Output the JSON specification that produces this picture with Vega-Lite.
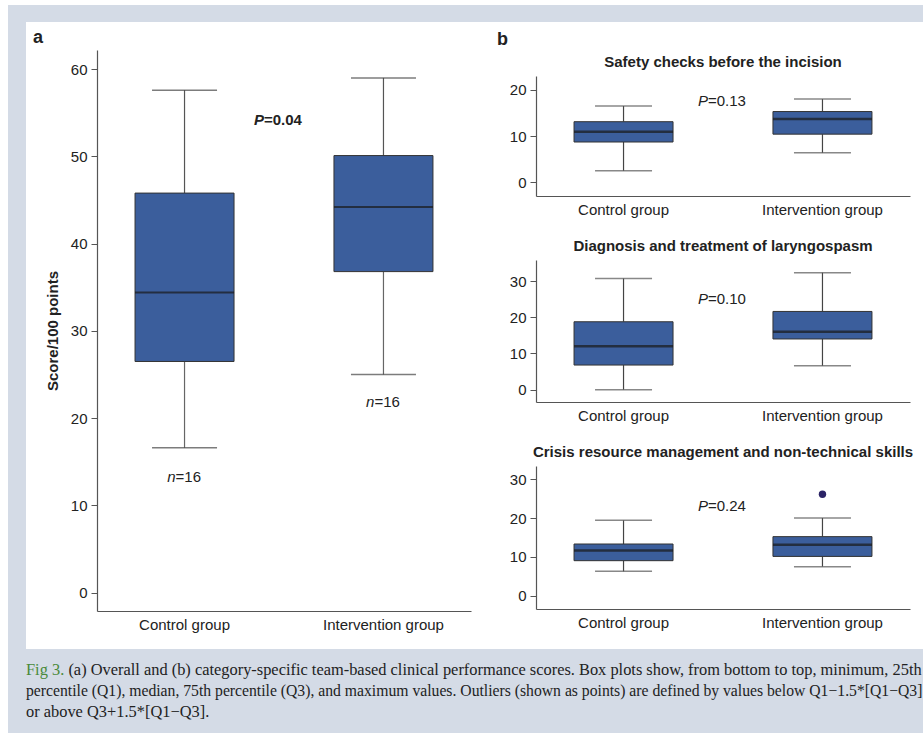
{
  "$schema": "https://vega.github.io/schema/vega-lite/v6.json",
  "background": "white",
  "padding": {"left": 8, "top": 5, "right": 0, "bottom": 0},
  "spacing": 0,
  "config": {
    "view": {"stroke": null},
    "font": "Liberation Sans",
    "axis": {"labelFont": "Liberation Sans", "labelFontSize": 15, "labelColor": "#222", "domainColor": "#555", "tickColor": "#555", "titleFont": "Liberation Sans", "titleFontSize": 15, "titleColor": "#222", "titleFontWeight": "bold", "grid": false, "domainWidth": 1.2},
    "axisY": {"tickSize": 6, "labelPadding": 4, "titlePadding": 10},
    "axisX": {"ticks": false, "labelAngle": 0, "labelPadding": 6},
    "title": {"font": "Liberation Sans", "color": "#222"}
  },
  "datasets": {
    "blank": [{}],
    "boxA": [
      {"group": "Control group", "min": 16.6, "q1": 26.5, "median": 34.4, "q3": 45.8, "max": 57.6},
      {"group": "Intervention group", "min": 25.0, "q1": 36.8, "median": 44.2, "q3": 50.1, "max": 59.0}
    ],
    "boxB1": [
      {"group": "Control group", "min": 2.45, "q1": 8.7, "median": 10.9, "q3": 13.1, "max": 16.5},
      {"group": "Intervention group", "min": 6.35, "q1": 10.4, "median": 13.7, "q3": 15.3, "max": 18.0}
    ],
    "boxB2": [
      {"group": "Control group", "min": 0, "q1": 6.8, "median": 12.0, "q3": 18.75, "max": 30.7},
      {"group": "Intervention group", "min": 6.6, "q1": 14.0, "median": 16.0, "q3": 21.6, "max": 32.3}
    ],
    "boxB3": [
      {"group": "Control group", "min": 6.25, "q1": 9.0, "median": 11.65, "q3": 13.3, "max": 19.4},
      {"group": "Intervention group", "min": 7.46, "q1": 10.1, "median": 13.1, "q3": 15.2, "max": 20.0}
    ],
    "outB3": [{"group": "Intervention group", "score": 26.1}],
    "pA": [{"italic": "P", "rest": "=0.04", "y": 54.2}],
    "nA": [
      {"group": "Control group", "italic": "n", "rest": "=16", "y": 13.3},
      {"group": "Intervention group", "italic": "n", "rest": "=16", "y": 21.9}
    ],
    "pB1": [{"italic": "P", "rest": "=0.13", "y": 17.6}],
    "pB2": [{"italic": "P", "rest": "=0.10", "y": 24.9}],
    "pB3": [{"italic": "P", "rest": "=0.24", "y": 23.0}],
    "caption": [
      {"line": 1, "part": "fig", "text": "Fig 3."},
      {"line": 1, "part": "first", "text": "(a) Overall and (b) category-specific team-based clinical performance scores. Box plots show, from bottom to top, minimum, 25th"},
      {"line": 2, "part": "second", "text": "percentile (Q1), median, 75th percentile (Q3), and maximum values. Outliers (shown as points) are defined by values below Q1−1.5*[Q1−Q3]"},
      {"line": 3, "part": "body", "text": "or above Q3+1.5*[Q1−Q3]."}
    ]
  },
  "vconcat": [
    {
      "data": {"name": "blank"},
      "width": 915, "height": 17,
      "view": {"fill": "#d4dbe6", "stroke": null},
      "mark": {"type": "rect", "color": "#d4dbe6"},
      "encoding": {}
    },
    {
      "spacing": 7,
      "align": "none",
      "hconcat": [
        {
          "data": {"name": "blank"},
          "width": 18, "height": 627,
          "view": {"fill": "#d4dbe6", "stroke": null},
          "mark": {"type": "rect", "color": "#d4dbe6"},
          "encoding": {}
        },
        {
          "spacing": 26,
          "align": "none",
          "hconcat": [
            {
              "spacing": 3,
              "vconcat": [
                {
                  "data": {"name": "blank"},
                  "width": 1, "height": 1,
                  "mark": {"type": "rect", "opacity": 0},
                  "encoding": {},
                  "title": {"text": "a", "orient": "bottom", "anchor": "start", "baseline": "top", "fontSize": 18, "fontWeight": "bold", "dx": -64, "offset": 6}
                },
                {
                  "width": 374, "height": 561,
                  "layer": [
                    {
                      "data": {"name": "boxA"},
                      "encoding": {"x": {"field": "group", "type": "nominal", "sort": null, "scale": {"paddingInner": 0.5, "paddingOuter": 0.19}, "title": null}},
                      "layer": [
                        {"mark": {"type": "rule", "color": "#666", "strokeWidth": 1.2},
                         "encoding": {"y": {"field": "min", "type": "quantitative", "scale": {"domain": [-2.1, 62.2], "nice": false, "zero": false}, "axis": {"values": [0, 10, 20, 30, 40, 50, 60]}, "title": "Score/100 points"}, "y2": {"field": "q1"}}},
                        {"mark": {"type": "rule", "color": "#555", "strokeWidth": 1.2},
                         "encoding": {"y": {"field": "q3", "type": "quantitative", "scale": {"domain": [-2.1, 62.2], "nice": false, "zero": false}, "axis": {"values": [0, 10, 20, 30, 40, 50, 60]}, "title": "Score/100 points"}, "y2": {"field": "max"}}},
                        {"mark": {"type": "tick", "color": "#444", "size": 65, "thickness": 1.5},
                         "encoding": {"y": {"field": "min", "type": "quantitative", "scale": {"domain": [-2.1, 62.2], "nice": false, "zero": false}, "axis": {"values": [0, 10, 20, 30, 40, 50, 60]}, "title": "Score/100 points"}}},
                        {"mark": {"type": "tick", "color": "#444", "size": 65, "thickness": 1.5},
                         "encoding": {"y": {"field": "max", "type": "quantitative", "scale": {"domain": [-2.1, 62.2], "nice": false, "zero": false}, "axis": {"values": [0, 10, 20, 30, 40, 50, 60]}, "title": "Score/100 points"}}},
                        {"mark": {"type": "bar", "size": 99, "fill": "#3b5e9c", "stroke": "#333", "strokeWidth": 1},
                         "encoding": {"y": {"field": "q1", "type": "quantitative", "scale": {"domain": [-2.1, 62.2], "nice": false, "zero": false}, "axis": {"values": [0, 10, 20, 30, 40, 50, 60]}, "title": "Score/100 points"}, "y2": {"field": "q3"}}},
                        {"mark": {"type": "tick", "color": "#1a1a1a", "size": 99, "thickness": 2},
                         "encoding": {"y": {"field": "median", "type": "quantitative", "scale": {"domain": [-2.1, 62.2], "nice": false, "zero": false}, "axis": {"values": [0, 10, 20, 30, 40, 50, 60]}, "title": "Score/100 points"}}}
                      ]
                    },
                    {
                      "data": {"name": "pA"},
                      "layer": [
                        {"mark": {"type": "text", "font": "Liberation Sans", "fontSize": 15, "fontWeight": "bold", "fontStyle": "italic", "align": "right", "baseline": "middle", "dx": -20, "color": "#222"},
                         "encoding": {"y": {"field": "y", "type": "quantitative", "scale": {"domain": [-2.1, 62.2], "nice": false, "zero": false}, "axis": {"values": [0, 10, 20, 30, 40, 50, 60]}, "title": "Score/100 points"}, "text": {"field": "italic"}}},
                        {"mark": {"type": "text", "font": "Liberation Sans", "fontSize": 15, "fontWeight": "bold", "align": "left", "baseline": "middle", "dx": -20, "color": "#222"},
                         "encoding": {"y": {"field": "y", "type": "quantitative", "scale": {"domain": [-2.1, 62.2], "nice": false, "zero": false}, "axis": {"values": [0, 10, 20, 30, 40, 50, 60]}, "title": "Score/100 points"}, "text": {"field": "rest"}}}
                      ]
                    },
                    {
                      "data": {"name": "nA"},
                      "encoding": {"x": {"field": "group", "type": "nominal", "sort": null, "scale": {"paddingInner": 0.5, "paddingOuter": 0.19}, "title": null}},
                      "layer": [
                        {"mark": {"type": "text", "font": "Liberation Sans", "fontSize": 15, "fontStyle": "italic", "align": "right", "baseline": "middle", "dx": -9, "color": "#222"},
                         "encoding": {"y": {"field": "y", "type": "quantitative", "scale": {"domain": [-2.1, 62.2], "nice": false, "zero": false}, "axis": {"values": [0, 10, 20, 30, 40, 50, 60]}, "title": "Score/100 points"}, "text": {"field": "italic"}}},
                        {"mark": {"type": "text", "font": "Liberation Sans", "fontSize": 15, "align": "left", "baseline": "middle", "dx": -9, "color": "#222"},
                         "encoding": {"y": {"field": "y", "type": "quantitative", "scale": {"domain": [-2.1, 62.2], "nice": false, "zero": false}, "axis": {"values": [0, 10, 20, 30, 40, 50, 60]}, "title": "Score/100 points"}, "text": {"field": "rest"}}}
                      ]
                    }
                  ]
                }
              ]
            },
            {
              "spacing": 6,
              "vconcat": [
                {
                  "data": {"name": "blank"},
                  "width": 1, "height": 1,
                  "mark": {"type": "rect", "opacity": 0},
                  "encoding": {},
                  "title": {"text": "b", "orient": "bottom", "anchor": "start", "baseline": "top", "fontSize": 18, "fontWeight": "bold", "dx": -39, "offset": 8}
                },
                {
                  "spacing": 22,
                  "vconcat": [
                    {
                      "width": 374, "height": 120,
                      "title": {"text": "Safety checks before the incision", "fontSize": 15, "fontWeight": "bold", "offset": 6},
                      "layer": [
                        {
                          "data": {"name": "boxB1"},
                          "encoding": {"x": {"field": "group", "type": "nominal", "sort": null, "scale": {"paddingInner": 0.5, "paddingOuter": 0.19}, "title": null}},
                          "layer": [
                            {"mark": {"type": "rule", "color": "#444", "strokeWidth": 1.2},
                             "encoding": {"y": {"field": "min", "type": "quantitative", "scale": {"domain": [-3, 23], "nice": false, "zero": false}, "axis": {"values": [0, 10, 20]}, "title": null}, "y2": {"field": "q1"}}},
                            {"mark": {"type": "rule", "color": "#444", "strokeWidth": 1.2},
                             "encoding": {"y": {"field": "q3", "type": "quantitative", "scale": {"domain": [-3, 23], "nice": false, "zero": false}, "axis": {"values": [0, 10, 20]}, "title": null}, "y2": {"field": "max"}}},
                            {"mark": {"type": "tick", "color": "#555", "size": 57, "thickness": 1.5},
                             "encoding": {"y": {"field": "min", "type": "quantitative", "scale": {"domain": [-3, 23], "nice": false, "zero": false}, "axis": {"values": [0, 10, 20]}, "title": null}}},
                            {"mark": {"type": "tick", "color": "#555", "size": 57, "thickness": 1.5},
                             "encoding": {"y": {"field": "max", "type": "quantitative", "scale": {"domain": [-3, 23], "nice": false, "zero": false}, "axis": {"values": [0, 10, 20]}, "title": null}}},
                            {"mark": {"type": "bar", "size": 99, "fill": "#3b5e9c", "stroke": "#333", "strokeWidth": 1},
                             "encoding": {"y": {"field": "q1", "type": "quantitative", "scale": {"domain": [-3, 23], "nice": false, "zero": false}, "axis": {"values": [0, 10, 20]}, "title": null}, "y2": {"field": "q3"}}},
                            {"mark": {"type": "tick", "color": "#1a1a1a", "size": 99, "thickness": 2.5},
                             "encoding": {"y": {"field": "median", "type": "quantitative", "scale": {"domain": [-3, 23], "nice": false, "zero": false}, "axis": {"values": [0, 10, 20]}, "title": null}}}
                          ]
                        },
                        {
                          "data": {"name": "pB1"},
                          "layer": [
                            {"mark": {"type": "text", "font": "Liberation Sans", "fontSize": 15, "fontStyle": "italic", "align": "right", "baseline": "middle", "dx": -15, "color": "#222"},
                             "encoding": {"y": {"field": "y", "type": "quantitative", "scale": {"domain": [-3, 23], "nice": false, "zero": false}, "axis": {"values": [0, 10, 20]}, "title": null}, "text": {"field": "italic"}}},
                            {"mark": {"type": "text", "font": "Liberation Sans", "fontSize": 15, "align": "left", "baseline": "middle", "dx": -15, "color": "#222"},
                             "encoding": {"y": {"field": "y", "type": "quantitative", "scale": {"domain": [-3, 23], "nice": false, "zero": false}, "axis": {"values": [0, 10, 20]}, "title": null}, "text": {"field": "rest"}}}
                          ]
                        }
                      ]
                    },
                    {
                      "width": 374, "height": 142,
                      "title": {"text": "Diagnosis and treatment of laryngospasm", "fontSize": 15, "fontWeight": "bold", "offset": 6},
                      "layer": [
                        {
                          "data": {"name": "boxB2"},
                          "encoding": {"x": {"field": "group", "type": "nominal", "sort": null, "scale": {"paddingInner": 0.5, "paddingOuter": 0.19}, "title": null}},
                          "layer": [
                            {"mark": {"type": "rule", "color": "#444", "strokeWidth": 1.2},
                             "encoding": {"y": {"field": "min", "type": "quantitative", "scale": {"domain": [-3.4, 35.8], "nice": false, "zero": false}, "axis": {"values": [0, 10, 20, 30]}, "title": null}, "y2": {"field": "q1"}}},
                            {"mark": {"type": "rule", "color": "#444", "strokeWidth": 1.2},
                             "encoding": {"y": {"field": "q3", "type": "quantitative", "scale": {"domain": [-3.4, 35.8], "nice": false, "zero": false}, "axis": {"values": [0, 10, 20, 30]}, "title": null}, "y2": {"field": "max"}}},
                            {"mark": {"type": "tick", "color": "#555", "size": 57, "thickness": 1.5},
                             "encoding": {"y": {"field": "min", "type": "quantitative", "scale": {"domain": [-3.4, 35.8], "nice": false, "zero": false}, "axis": {"values": [0, 10, 20, 30]}, "title": null}}},
                            {"mark": {"type": "tick", "color": "#555", "size": 57, "thickness": 1.5},
                             "encoding": {"y": {"field": "max", "type": "quantitative", "scale": {"domain": [-3.4, 35.8], "nice": false, "zero": false}, "axis": {"values": [0, 10, 20, 30]}, "title": null}}},
                            {"mark": {"type": "bar", "size": 99, "fill": "#3b5e9c", "stroke": "#333", "strokeWidth": 1},
                             "encoding": {"y": {"field": "q1", "type": "quantitative", "scale": {"domain": [-3.4, 35.8], "nice": false, "zero": false}, "axis": {"values": [0, 10, 20, 30]}, "title": null}, "y2": {"field": "q3"}}},
                            {"mark": {"type": "tick", "color": "#1a1a1a", "size": 99, "thickness": 2.5},
                             "encoding": {"y": {"field": "median", "type": "quantitative", "scale": {"domain": [-3.4, 35.8], "nice": false, "zero": false}, "axis": {"values": [0, 10, 20, 30]}, "title": null}}}
                          ]
                        },
                        {
                          "data": {"name": "pB2"},
                          "layer": [
                            {"mark": {"type": "text", "font": "Liberation Sans", "fontSize": 15, "fontStyle": "italic", "align": "right", "baseline": "middle", "dx": -15, "color": "#222"},
                             "encoding": {"y": {"field": "y", "type": "quantitative", "scale": {"domain": [-3.4, 35.8], "nice": false, "zero": false}, "axis": {"values": [0, 10, 20, 30]}, "title": null}, "text": {"field": "italic"}}},
                            {"mark": {"type": "text", "font": "Liberation Sans", "fontSize": 15, "align": "left", "baseline": "middle", "dx": -15, "color": "#222"},
                             "encoding": {"y": {"field": "y", "type": "quantitative", "scale": {"domain": [-3.4, 35.8], "nice": false, "zero": false}, "axis": {"values": [0, 10, 20, 30]}, "title": null}, "text": {"field": "rest"}}}
                          ]
                        }
                      ]
                    },
                    {
                      "width": 374, "height": 143,
                      "title": {"text": "Crisis resource management and non-technical skills", "fontSize": 15, "fontWeight": "bold", "offset": 6},
                      "layer": [
                        {
                          "data": {"name": "boxB3"},
                          "encoding": {"x": {"field": "group", "type": "nominal", "sort": null, "scale": {"paddingInner": 0.5, "paddingOuter": 0.19}, "title": null}},
                          "layer": [
                            {"mark": {"type": "rule", "color": "#444", "strokeWidth": 1.2},
                             "encoding": {"y": {"field": "min", "type": "quantitative", "scale": {"domain": [-3.45, 33.4], "nice": false, "zero": false}, "axis": {"values": [0, 10, 20, 30]}, "title": null}, "y2": {"field": "q1"}}},
                            {"mark": {"type": "rule", "color": "#444", "strokeWidth": 1.2},
                             "encoding": {"y": {"field": "q3", "type": "quantitative", "scale": {"domain": [-3.45, 33.4], "nice": false, "zero": false}, "axis": {"values": [0, 10, 20, 30]}, "title": null}, "y2": {"field": "max"}}},
                            {"mark": {"type": "tick", "color": "#555", "size": 57, "thickness": 1.5},
                             "encoding": {"y": {"field": "min", "type": "quantitative", "scale": {"domain": [-3.45, 33.4], "nice": false, "zero": false}, "axis": {"values": [0, 10, 20, 30]}, "title": null}}},
                            {"mark": {"type": "tick", "color": "#555", "size": 57, "thickness": 1.5},
                             "encoding": {"y": {"field": "max", "type": "quantitative", "scale": {"domain": [-3.45, 33.4], "nice": false, "zero": false}, "axis": {"values": [0, 10, 20, 30]}, "title": null}}},
                            {"mark": {"type": "bar", "size": 99, "fill": "#3b5e9c", "stroke": "#333", "strokeWidth": 1},
                             "encoding": {"y": {"field": "q1", "type": "quantitative", "scale": {"domain": [-3.45, 33.4], "nice": false, "zero": false}, "axis": {"values": [0, 10, 20, 30]}, "title": null}, "y2": {"field": "q3"}}},
                            {"mark": {"type": "tick", "color": "#1a1a1a", "size": 99, "thickness": 2.5},
                             "encoding": {"y": {"field": "median", "type": "quantitative", "scale": {"domain": [-3.45, 33.4], "nice": false, "zero": false}, "axis": {"values": [0, 10, 20, 30]}, "title": null}}}
                          ]
                        },
                        {
                          "data": {"name": "outB3"},
                          "mark": {"type": "circle", "size": 55, "color": "#2b2466", "opacity": 1},
                          "encoding": {
                            "x": {"field": "group", "type": "nominal", "sort": null, "scale": {"paddingInner": 0.5, "paddingOuter": 0.19}, "title": null},
                            "y": {"field": "score", "type": "quantitative", "scale": {"domain": [-3.45, 33.4], "nice": false, "zero": false}, "axis": {"values": [0, 10, 20, 30]}, "title": null}
                          }
                        },
                        {
                          "data": {"name": "pB3"},
                          "layer": [
                            {"mark": {"type": "text", "font": "Liberation Sans", "fontSize": 15, "fontStyle": "italic", "align": "right", "baseline": "middle", "dx": -15, "color": "#222"},
                             "encoding": {"y": {"field": "y", "type": "quantitative", "scale": {"domain": [-3.45, 33.4], "nice": false, "zero": false}, "axis": {"values": [0, 10, 20, 30]}, "title": null}, "text": {"field": "italic"}}},
                            {"mark": {"type": "text", "font": "Liberation Sans", "fontSize": 15, "align": "left", "baseline": "middle", "dx": -15, "color": "#222"},
                             "encoding": {"y": {"field": "y", "type": "quantitative", "scale": {"domain": [-3.45, 33.4], "nice": false, "zero": false}, "axis": {"values": [0, 10, 20, 30]}, "title": null}, "text": {"field": "rest"}}}
                          ]
                        }
                      ]
                    }
                  ]
                }
              ]
            }
          ]
        }
      ]
    },
    {
      "spacing": 0,
      "hconcat": [
        {
          "data": {"name": "blank"},
          "width": 18, "height": 84,
          "view": {"fill": "#d4dbe6", "stroke": null},
          "mark": {"type": "rect", "color": "#d4dbe6"},
          "encoding": {}
        },
        {
          "data": {"name": "caption"},
          "width": 897, "height": 84,
          "view": {"fill": "#d4dbe6", "stroke": null},
          "encoding": {
            "x": {"datum": 0, "type": "quantitative", "scale": {"domain": [0, 1]}, "axis": null},
            "y": {"field": "line", "type": "ordinal", "scale": {"domain": [1, 2, 3], "padding": 1.1, "align": 0.5}, "axis": null},
            "text": {"field": "text"}
          },
          "layer": [
            {"transform": [{"filter": "datum.part === 'fig'"}],
             "mark": {"type": "text", "font": "Liberation Serif", "fontSize": 16.4, "align": "left", "baseline": "middle", "color": "#4a8a3a"}},
            {"transform": [{"filter": "datum.part === 'first'"}],
             "mark": {"type": "text", "font": "Liberation Serif", "fontSize": 16.4, "align": "left", "baseline": "middle", "dx": 42.4, "color": "#222"}},
            {"transform": [{"filter": "datum.part === 'second'"}],
             "mark": {"type": "text", "font": "Liberation Serif", "fontSize": 15.7, "align": "left", "baseline": "middle", "color": "#222"}},
            {"transform": [{"filter": "datum.part === 'body'"}],
             "mark": {"type": "text", "font": "Liberation Serif", "fontSize": 16.4, "align": "left", "baseline": "middle", "color": "#222"}}
          ]
        }
      ]
    }
  ]
}
